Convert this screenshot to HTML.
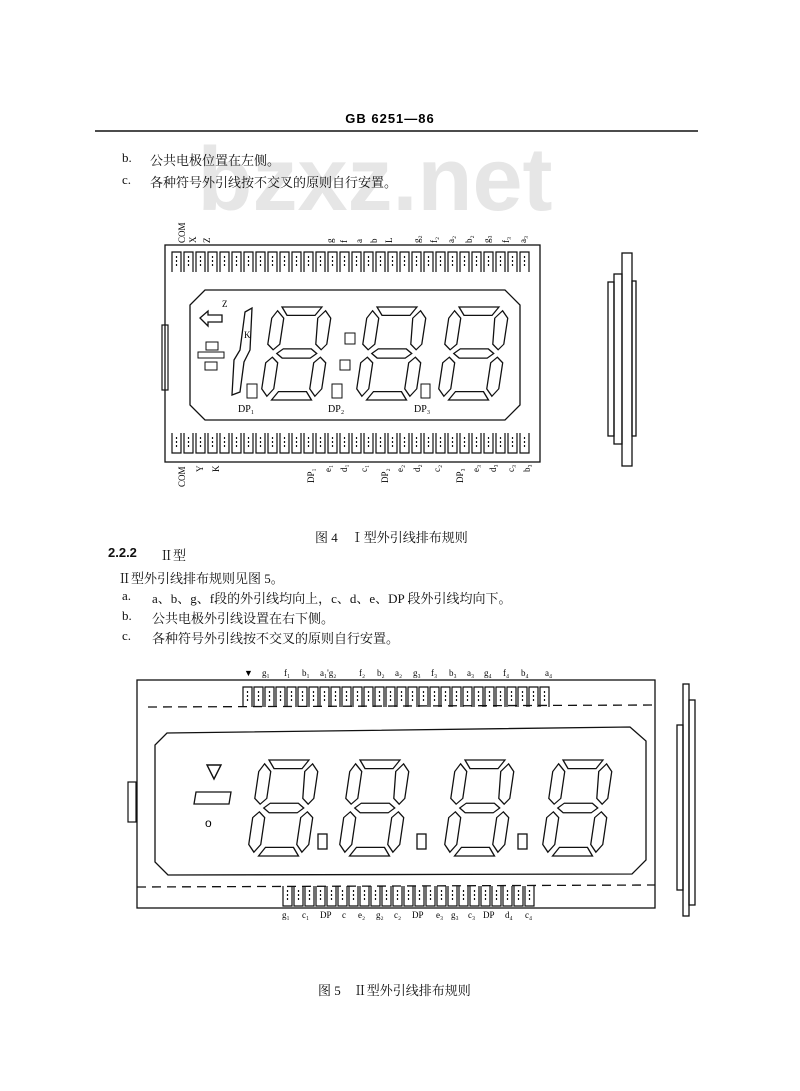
<!DOCTYPE html>
<html><head><meta charset="utf-8"><style>
html,body{margin:0;padding:0;background:#fff;}
body{width:800px;height:1091px;overflow:hidden;position:relative;font-family:"Liberation Serif","Noto Serif CJK SC",serif;color:#111;}
.t{position:absolute;font-size:13px;white-space:nowrap;}
</style></head><body>
<svg width="800" height="1091" viewBox="0 0 800 1091" style="position:absolute;left:0;top:0">
<defs>
<g id="dg" fill="none" stroke="#111" stroke-width="1.3" transform="skewX(-6)">
<polygon points="10,0 50,0 44,9 16,9"/>
<polygon points="6,4 13,12 12,40 6,46 0,40 1,12"/>
<polygon points="54,4 60,12 59,40 54,46 48,40 47,12"/>
<polygon points="10,50 16,45 44,45 50,50 44,55 16,55"/>
<polygon points="6,54 12,60 11,88 5,96 -1,88 0,60"/>
<polygon points="54,54 60,60 59,88 53,96 47,88 48,60"/>
<polygon points="16,91 44,91 50,100 10,100"/>
</g>
<g id="pt" fill="none" stroke="#111" stroke-width="1.2"><path d="M0,22 V2 H9 V22"/><path d="M4.5,6 V18" stroke-dasharray="2,2"/></g>
<g id="pb" fill="none" stroke="#111" stroke-width="1.2"><path d="M0,0 V20 H9 V0"/><path d="M4.5,4 V16" stroke-dasharray="2,2"/></g>
</defs>
<text x="375" y="210" font-family="Liberation Sans,sans-serif" font-weight="bold" font-size="90" fill="#e6e6e6" text-anchor="middle">bzxz.net</text>
<text x="390" y="123" font-family="Liberation Sans,sans-serif" font-weight="bold" font-size="13" text-anchor="middle" letter-spacing="1">GB 6251—86</text>
<line x1="95" y1="131" x2="698" y2="131" stroke="#111" stroke-width="1.5"/>

<!-- Fig 4 -->
<rect x="165" y="245" width="375" height="217" fill="none" stroke="#111" stroke-width="1.3"/>
<rect x="162" y="325" width="6" height="65" fill="none" stroke="#111" stroke-width="1.2"/>
<polygon points="205,290 505,290 520,305 520,405 505,420 205,420 190,405 190,305" fill="none" stroke="#111" stroke-width="1.3"/>
<g>
<use href="#pt" x="172" y="250"/><use href="#pt" x="184" y="250"/><use href="#pt" x="196" y="250"/><use href="#pt" x="208" y="250"/><use href="#pt" x="220" y="250"/><use href="#pt" x="232" y="250"/><use href="#pt" x="244" y="250"/><use href="#pt" x="256" y="250"/><use href="#pt" x="268" y="250"/><use href="#pt" x="280" y="250"/><use href="#pt" x="292" y="250"/><use href="#pt" x="304" y="250"/><use href="#pt" x="316" y="250"/><use href="#pt" x="328" y="250"/><use href="#pt" x="340" y="250"/><use href="#pt" x="352" y="250"/><use href="#pt" x="364" y="250"/><use href="#pt" x="376" y="250"/><use href="#pt" x="388" y="250"/><use href="#pt" x="400" y="250"/><use href="#pt" x="412" y="250"/><use href="#pt" x="424" y="250"/><use href="#pt" x="436" y="250"/><use href="#pt" x="448" y="250"/><use href="#pt" x="460" y="250"/><use href="#pt" x="472" y="250"/><use href="#pt" x="484" y="250"/><use href="#pt" x="496" y="250"/><use href="#pt" x="508" y="250"/><use href="#pt" x="520" y="250"/>
<use href="#pb" x="172" y="433"/><use href="#pb" x="184" y="433"/><use href="#pb" x="196" y="433"/><use href="#pb" x="208" y="433"/><use href="#pb" x="220" y="433"/><use href="#pb" x="232" y="433"/><use href="#pb" x="244" y="433"/><use href="#pb" x="256" y="433"/><use href="#pb" x="268" y="433"/><use href="#pb" x="280" y="433"/><use href="#pb" x="292" y="433"/><use href="#pb" x="304" y="433"/><use href="#pb" x="316" y="433"/><use href="#pb" x="328" y="433"/><use href="#pb" x="340" y="433"/><use href="#pb" x="352" y="433"/><use href="#pb" x="364" y="433"/><use href="#pb" x="376" y="433"/><use href="#pb" x="388" y="433"/><use href="#pb" x="400" y="433"/><use href="#pb" x="412" y="433"/><use href="#pb" x="424" y="433"/><use href="#pb" x="436" y="433"/><use href="#pb" x="448" y="433"/><use href="#pb" x="460" y="433"/><use href="#pb" x="472" y="433"/><use href="#pb" x="484" y="433"/><use href="#pb" x="496" y="433"/><use href="#pb" x="508" y="433"/><use href="#pb" x="520" y="433"/>
</g>
<use href="#dg" transform="translate(272,307) scale(1,0.93)"/>
<use href="#dg" transform="translate(367,307) scale(1,0.93)"/>
<use href="#dg" transform="translate(449,307) scale(1,0.93)"/>
<polygon points="245,312 252,308 250,350 244,362 240,392 232,395 234,360 240,350" fill="none" stroke="#111" stroke-width="1.3"/>
<path d="M200,318 L208,311 V315 H222 V322 H208 V326 Z" fill="none" stroke="#111" stroke-width="1.3"/>
<rect x="206" y="342" width="12" height="8" fill="none" stroke="#111"/><rect x="198" y="352" width="26" height="6" fill="none" stroke="#111"/><rect x="205" y="362" width="12" height="8" fill="none" stroke="#111"/>
<rect x="345" y="333" width="10" height="11" fill="none" stroke="#111"/><rect x="340" y="360" width="10" height="10" fill="none" stroke="#111"/>
<rect x="247" y="384" width="10" height="14" fill="none" stroke="#111"/>
<rect x="332" y="384" width="10" height="14" fill="none" stroke="#111"/><rect x="421" y="384" width="9" height="14" fill="none" stroke="#111"/>
<g font-size="10" font-family="Liberation Serif,serif">
<text x="238" y="412">DP₁</text><text x="328" y="412">DP₂</text><text x="414" y="412">DP₃</text>
<text x="222" y="307" font-size="9">Z</text><text x="244" y="338" font-size="9">K</text>
</g>
<g font-size="9" font-family="Liberation Serif,serif">
<text transform="translate(185,243) rotate(-90)">COM</text>
<text transform="translate(196,243) rotate(-90)">X</text>
<text transform="translate(210,243) rotate(-90)">Z</text>
<text transform="translate(333,243) rotate(-90)">g</text><text transform="translate(347,243) rotate(-90)">f</text><text transform="translate(362,243) rotate(-90)">a</text><text transform="translate(377,243) rotate(-90)">b</text><text transform="translate(392,243) rotate(-90)">L</text><text transform="translate(420,243) rotate(-90)">g₂</text><text transform="translate(437,243) rotate(-90)">f₂</text><text transform="translate(454,243) rotate(-90)">a₂</text><text transform="translate(472,243) rotate(-90)">b₂</text><text transform="translate(490,243) rotate(-90)">g₃</text><text transform="translate(509,243) rotate(-90)">f₃</text><text transform="translate(526,243) rotate(-90)">a₃</text>
<text transform="translate(185,487) rotate(-90)">COM</text><text transform="translate(203,472) rotate(-90)">Y</text><text transform="translate(219,472) rotate(-90)">K</text>
<text transform="translate(314,483) rotate(-90)">DP₁</text><text transform="translate(331,472) rotate(-90)">e₁</text><text transform="translate(347,472) rotate(-90)">d₁</text><text transform="translate(367,472) rotate(-90)">c₁</text><text transform="translate(388,483) rotate(-90)">DP₂</text><text transform="translate(403,472) rotate(-90)">e₂</text><text transform="translate(420,472) rotate(-90)">d₂</text><text transform="translate(440,472) rotate(-90)">c₂</text><text transform="translate(463,483) rotate(-90)">DP₃</text><text transform="translate(479,472) rotate(-90)">e₃</text><text transform="translate(496,472) rotate(-90)">d₃</text><text transform="translate(514,472) rotate(-90)">c₃</text><text transform="translate(530,472) rotate(-90)">b₃</text>
</g>
<g fill="none" stroke="#111" stroke-width="1.3">
<rect x="608" y="282" width="6" height="154"/><rect x="614" y="274" width="8" height="170"/><rect x="622" y="253" width="10" height="213"/><rect x="632" y="281" width="4" height="155"/>
</g>

<!-- Fig 5 -->
<rect x="137" y="680" width="518" height="228" fill="none" stroke="#111" stroke-width="1.3"/>
<line x1="148" y1="707" x2="655" y2="705" stroke="#111" stroke-width="1.3" stroke-dasharray="9,6"/>
<line x1="137" y1="887" x2="655" y2="885" stroke="#111" stroke-width="1.3" stroke-dasharray="9,6"/>
<rect x="128" y="782" width="8" height="40" fill="none" stroke="#111" stroke-width="1.2"/>
<polygon points="167,733 630,727 646,741 646,860 632,874 168,875 155,862 155,745" fill="none" stroke="#111" stroke-width="1.3"/>
<g>
<use href="#pt" x="243" y="685"/><use href="#pt" x="254" y="685"/><use href="#pt" x="265" y="685"/><use href="#pt" x="276" y="685"/><use href="#pt" x="287" y="685"/><use href="#pt" x="298" y="685"/><use href="#pt" x="309" y="685"/><use href="#pt" x="320" y="685"/><use href="#pt" x="331" y="685"/><use href="#pt" x="342" y="685"/><use href="#pt" x="353" y="685"/><use href="#pt" x="364" y="685"/><use href="#pt" x="375" y="685"/><use href="#pt" x="386" y="685"/><use href="#pt" x="397" y="685"/><use href="#pt" x="408" y="685"/><use href="#pt" x="419" y="685"/><use href="#pt" x="430" y="685"/><use href="#pt" x="441" y="685"/><use href="#pt" x="452" y="685"/><use href="#pt" x="463" y="685"/><use href="#pt" x="474" y="685"/><use href="#pt" x="485" y="685"/><use href="#pt" x="496" y="685"/><use href="#pt" x="507" y="685"/><use href="#pt" x="518" y="685"/><use href="#pt" x="529" y="685"/><use href="#pt" x="540" y="685"/>
<use href="#pb" x="283" y="886"/><use href="#pb" x="294" y="886"/><use href="#pb" x="305" y="886"/><use href="#pb" x="316" y="886"/><use href="#pb" x="327" y="886"/><use href="#pb" x="338" y="886"/><use href="#pb" x="349" y="886"/><use href="#pb" x="360" y="886"/><use href="#pb" x="371" y="886"/><use href="#pb" x="382" y="886"/><use href="#pb" x="393" y="886"/><use href="#pb" x="404" y="886"/><use href="#pb" x="415" y="886"/><use href="#pb" x="426" y="886"/><use href="#pb" x="437" y="886"/><use href="#pb" x="448" y="886"/><use href="#pb" x="459" y="886"/><use href="#pb" x="470" y="886"/><use href="#pb" x="481" y="886"/><use href="#pb" x="492" y="886"/><use href="#pb" x="503" y="886"/><use href="#pb" x="514" y="886"/><use href="#pb" x="525" y="886"/>
</g>
<use href="#dg" transform="translate(259,760) scale(1,0.96)"/>
<use href="#dg" transform="translate(350,760) scale(1,0.96)"/>
<use href="#dg" transform="translate(455,760) scale(1,0.96)"/>
<use href="#dg" transform="translate(553,760) scale(1,0.96)"/>
<polygon points="207,765 221,765 214,779" fill="none" stroke="#111" stroke-width="1.4"/>
<polygon points="196,792 231,792 229,804 194,804" fill="none" stroke="#111" stroke-width="1.3"/>
<text x="205" y="827" font-size="12" font-family="Liberation Sans,sans-serif">o</text>
<g fill="none" stroke="#111" stroke-width="1.3"><rect x="318" y="834" width="9" height="15"/><rect x="417" y="834" width="9" height="15"/><rect x="518" y="834" width="9" height="15"/></g>
<g font-size="9" font-family="Liberation Serif,serif">
<text x="244" y="676">▼</text><text x="262" y="676">g₁</text><text x="284" y="676">f₁</text><text x="302" y="676">b₁</text><text x="320" y="676">a₁'g₂</text><text x="359" y="676">f₂</text><text x="377" y="676">b₂</text><text x="395" y="676">a₂</text><text x="413" y="676">g₃</text><text x="431" y="676">f₃</text><text x="449" y="676">b₃</text><text x="467" y="676">a₃</text><text x="484" y="676">g₄</text><text x="503" y="676">f₄</text><text x="521" y="676">b₄</text><text x="545" y="676">a₄</text>
<text x="282" y="918">g₁</text><text x="302" y="918">c₁</text><text x="320" y="918">DP</text><text x="342" y="918">c</text><text x="358" y="918">e₂</text><text x="376" y="918">g₂</text><text x="394" y="918">c₂</text><text x="412" y="918">DP</text><text x="436" y="918">e₃</text><text x="451" y="918">g₃</text><text x="468" y="918">c₃</text><text x="483" y="918">DP</text><text x="505" y="918">d₄</text><text x="525" y="918">c₄</text>
</g>
<g fill="none" stroke="#111" stroke-width="1.3">
<rect x="677" y="725" width="6" height="165"/><rect x="683" y="684" width="6" height="232"/><rect x="689" y="700" width="6" height="205"/>
</g>
</svg>
<div class="t" style="left:122px;top:150px">b.</div><div class="t" style="left:150px;top:150px">公共电极位置在左侧。</div>
<div class="t" style="left:122px;top:172px">c.</div><div class="t" style="left:150px;top:172px">各种符号外引线按不交叉的原则自行安置。</div>
<div class="t" style="left:315px;top:527px">图 4　Ⅰ型外引线排布规则</div>
<div class="t" style="left:108px;top:545px;font-weight:bold;font-family:'Liberation Sans',sans-serif">2.2.2</div><div class="t" style="left:160px;top:545px">Ⅱ型</div>
<div class="t" style="left:118px;top:568px">Ⅱ型外引线排布规则见图 5。</div>
<div class="t" style="left:122px;top:588px">a.</div><div class="t" style="left:152px;top:588px">a、b、g、f段的外引线均向上，c、d、e、DP 段外引线均向下。</div>
<div class="t" style="left:122px;top:608px">b.</div><div class="t" style="left:152px;top:608px">公共电极外引线设置在右下侧。</div>
<div class="t" style="left:122px;top:628px">c.</div><div class="t" style="left:152px;top:628px">各种符号外引线按不交叉的原则自行安置。</div>
<div class="t" style="left:318px;top:980px">图 5　Ⅱ型外引线排布规则</div>
</body></html>
